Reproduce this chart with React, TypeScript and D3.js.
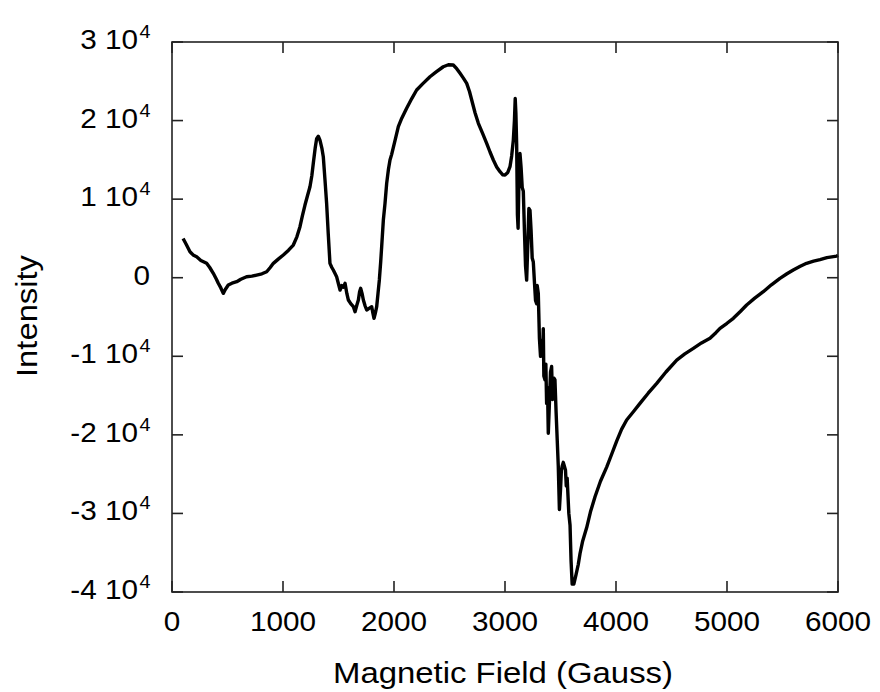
import React from "react";
import * as d3 from "d3";

const field = [
  100, 130, 162, 190, 222, 260, 312, 340, 372, 400, 417, 440, 462, 480, 507, 540, 583, 620, 672, 720,
  762, 810, 853, 885, 913, 960, 1003, 1050, 1093, 1125, 1153, 1175, 1198, 1220, 1243, 1260, 1273, 1290,
  1303, 1318, 1333, 1350, 1363, 1378, 1393, 1408, 1423, 1440, 1453, 1470, 1483, 1500, 1514, 1530, 1545,
  1559, 1575, 1589, 1610, 1634, 1649, 1665, 1679, 1690, 1700, 1712, 1724, 1740, 1754, 1775, 1799, 1810,
  1820, 1832, 1844, 1856, 1868, 1880, 1889, 1904, 1919, 1934, 1950, 1964, 1979, 2010, 2039, 2070, 2114,
  2160, 2204, 2260, 2324, 2380, 2444, 2490, 2534, 2565, 2595, 2625, 2655, 2680, 2700, 2730, 2760, 2800,
  2835, 2865, 2895, 2925, 2955, 2980, 3000, 3025, 3045, 3060, 3075, 3085, 3092, 3098, 3105, 3112, 3118,
  3125, 3135, 3145, 3155, 3165, 3175, 3185, 3195, 3205, 3215, 3225, 3235, 3245, 3255, 3265, 3275, 3285,
  3290, 3300, 3310, 3320, 3330, 3340, 3345, 3350, 3360, 3368, 3375, 3383, 3390, 3400, 3410, 3420, 3428,
  3435, 3442, 3450, 3460, 3470, 3480, 3490, 3500, 3508, 3515, 3525, 3535, 3545, 3552, 3560, 3575, 3586,
  3595, 3605, 3620, 3640, 3660, 3676, 3700, 3736, 3770, 3811, 3860, 3916, 3960, 4006, 4050, 4096, 4160,
  4216, 4290, 4367, 4450, 4547, 4620, 4697, 4770, 4847, 4900, 4937, 5000, 5057, 5120, 5177, 5250, 5327,
  5400, 5477, 5540, 5597, 5660, 5717, 5780, 5838, 5900, 5988, 6000,
];

const intensity = [
  5000, 4200, 3300, 2900, 2670, 2200, 1830, 1300, 560, -200, -710, -1300, -1990, -1500, -930, -700, -510,
  -200, 130, 200, 340, 500, 760, 1300, 1830, 2400, 2890, 3500, 4160, 5200, 6490, 7900, 9250, 10400, 11580,
  13000, 14560, 16500, 17700, 18000, 17500, 16500, 15400, 12500, 9470, 5500, 1830, 1300, 980, 500, 130,
  -800, -1570, -1000, -1200, -710, -2000, -2840, -3300, -3690, -4330, -3500, -2840, -1800, -1350, -2000,
  -2840, -3600, -4110, -3900, -3690, -4500, -5170, -4500, -3690, -2000, -290, 2000, 3950, 7340, 9470,
  12010, 13800, 14980, 15700, 17500, 19220, 20300, 21560, 22800, 23890, 24700, 25580, 26200, 26850, 27100,
  27070, 26600, 26010, 25400, 24740, 23700, 22620, 21000, 19650, 18300, 17100, 16000, 14980, 14100, 13490,
  13100, 13070, 13400, 14130, 15500, 17520, 20000, 22800, 21000, 17000, 8000, 6300, 12000, 15800, 14000,
  11500, 11000, 6000, 1500, -300, 4000, 8800, 8600, 6000, 2500, 2000, -500, -2900, -3300, -1000, -2000,
  -7700, -10000, -8000, -9500, -6500, -12500, -13000, -11000, -16000, -14000, -19800, -16000, -12000,
  -11300, -15500, -14000, -12800, -13000, -17000, -20500, -24000, -29500, -27000, -24500, -24000, -23500,
  -24000, -24500, -26500, -25500, -30000, -31500, -36000, -39000, -39000, -37800, -36500, -35100, -33500,
  -31800, -29800, -27870, -25900, -24100, -22500, -20800, -19300, -18110, -17000, -15990, -14700, -13440,
  -12000, -10480, -9700, -8990, -8300, -7710, -7000, -6440, -5800, -5170, -4300, -3470, -2600, -1780, -900,
  -80, 500, 980, 1450, 1830, 2100, 2300, 2550, 2750, 2850,
];

const xTicks = [0, 1000, 2000, 3000, 4000, 5000, 6000];
const yTicks = [30000, 20000, 10000, 0, -10000, -20000, -30000, -40000];
const yMantissa = ["3", "2", "1", "0", "-1", "-2", "-3", "-4"];

const W = 880;
const H = 692;
const M = { left: 172, right: 838, top: 42, bottom: 592 };
const FONT = "'Liberation Sans', Arial, sans-serif";

export default function App() {
  const x = d3.scaleLinear().domain([0, 6000]).range([M.left, M.right]);
  const y = d3.scaleLinear().domain([-40000, 30000]).range([M.bottom, M.top]);
  const pts: [number, number][] = field.map((f, i) => [f, intensity[i]]);
  const line = d3
    .line<[number, number]>()
    .x((d) => x(d[0]))
    .y((d) => y(d[1]));
  const tickLen = 11;
  const sx = 1.1;

  return (
    <svg
      width={W}
      height={H}
      style={{ position: "absolute", left: 0, top: 0, background: "#fff" }}
      fontFamily={FONT}
    >
      <rect x={0} y={0} width={W} height={H} fill="#fff" />
      <path d={line(pts) || ""} fill="none" stroke="#000" strokeWidth={3.4} strokeLinejoin="round" />
      <rect
        x={M.left}
        y={M.top}
        width={M.right - M.left}
        height={M.bottom - M.top}
        fill="none"
        stroke="#222"
        strokeWidth={1.6}
      />
      {xTicks.map((t) => (
        <g key={"xt" + t}>
          <line x1={x(t)} x2={x(t)} y1={M.bottom} y2={M.bottom - tickLen} stroke="#222" strokeWidth={1.6} />
          <line x1={x(t)} x2={x(t)} y1={M.top} y2={M.top + tickLen} stroke="#222" strokeWidth={1.6} />
          <g transform={`translate(${x(t)},${631}) scale(${sx},1)`}>
            <text textAnchor="middle" fontSize={27} fill="#000">
              {t}
            </text>
          </g>
        </g>
      ))}
      {yTicks.map((t, i) => (
        <g key={"yt" + t}>
          <line x1={M.left} x2={M.left + tickLen} y1={y(t)} y2={y(t)} stroke="#222" strokeWidth={1.6} />
          <line x1={M.right} x2={M.right - tickLen} y1={y(t)} y2={y(t)} stroke="#222" strokeWidth={1.6} />
          {t === 0 ? (
            <g transform={`translate(${150},${y(t) + 7}) scale(${sx},1)`}>
              <text textAnchor="end" fontSize={27} fill="#000">
                0
              </text>
            </g>
          ) : (
            <g>
              <g transform={`translate(${138},${y(t) + 7}) scale(${sx},1)`}>
                <text textAnchor="end" fontSize={27} fill="#000">
                  {yMantissa[i] + " 10"}
                </text>
              </g>
              <g transform={`translate(${139.5},${y(t) - 4}) scale(${sx},1)`}>
                <text textAnchor="start" fontSize={18} fill="#000">
                  4
                </text>
              </g>
            </g>
          )}
        </g>
      ))}
      <text
        x={503}
        y={683}
        textAnchor="middle"
        fontSize={30}
        fill="#000"
        textLength={340}
        lengthAdjust="spacingAndGlyphs"
      >
        Magnetic Field (Gauss)
      </text>
      <text
        transform={`translate(37,316) rotate(-90)`}
        textAnchor="middle"
        fontSize={30}
        fill="#000"
        textLength={122}
        lengthAdjust="spacingAndGlyphs"
      >
        Intensity
      </text>
    </svg>
  );
}
